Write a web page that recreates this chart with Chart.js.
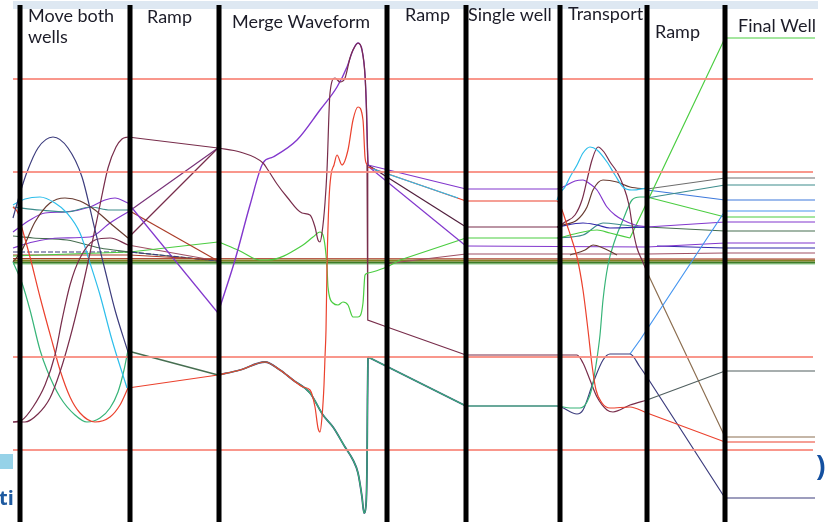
<!DOCTYPE html>
<html>
<head>
<meta charset="utf-8">
<script src="https://cdn.jsdelivr.net/npm/chart.js@4"></script>
<style>
html,body{margin:0;padding:0;background:#fff;overflow:hidden}
canvas{display:block}
</style>
</head>
<body>
<canvas id="c" width="827" height="522"></canvas>
<script>
// Time axis in µs, electrode voltage in V.
const sectionStart = [0, 11, 19.9, 36.7, 44.6, 54, 62.7, 70.5];
const sectionName = [['Move both', 'wells'], ['Ramp'], ['Merge Waveform'], ['Ramp'], ['Single well'], ['Transport'], ['Ramp'], ['Final Well']];
const railLevels = [18.5, 9.2, -9.3, -18.6];
const railSpan = [-0.7, 79.3];
const markerTop = 25.9, markerBottom = -26.5;

// Move both wells
const moveNavy = [[-0.7,4.6],[0.1,7.4],[0.7,9.2],[1.8,11.6],[3.3,12.7],[4.8,11.6],[6.2,8.7],[7.5,3.4],[8.5,-0.6],[9.5,-4.6],[10.8,-8.8]];
const moveMaroonA = [[-0.7,-15.8],[0.5,-15.8],[1.8,-15.0],[3.0,-13.4],[4.0,-10.8],[5.0,-7.4],[6.0,-3.4],[7.0,1.1],[8.0,5.9],[8.8,9.6],[9.6,11.7],[10.2,12.5],[10.8,12.7]];
const moveMaroonB = [[-0.7,-15.8],[0.2,-15.6],[1.3,-14.3],[2.5,-12.1],[3.5,-9.1],[4.2,-5.6],[5.0,-2.1],[6.0,0.6],[7.5,2.4],[9.0,2.6],[10.8,1.9]];
const moveCyan = [[-0.7,5.9],[0.5,6.5],[2.0,6.7],[3.5,6.1],[4.7,5.1],[6.0,3.1],[7.0,0.1],[8.0,-3.1],[9.2,-7.6],[10.7,-12.4]];
const moveRed = [[-0.7,5.7],[-0.2,5.1],[0.2,3.6],[1.0,0.7],[2.0,-3.3],[3.3,-8.1],[4.0,-10.6],[5.0,-13.3],[6.0,-14.9],[7.5,-15.8],[9.0,-15.3],[10.0,-14.1],[10.8,-12.4]];
const moveMint = [[-0.7,0.2],[0.2,-1.9],[1.0,-4.6],[2.0,-8.6],[2.7,-10.6],[4.0,-13.3],[5.5,-15.1],[6.7,-15.8],[8.0,-15.4],[9.0,-14.4],[9.8,-12.8],[10.4,-10.6],[10.8,-8.6]];
const moveBrown = [[-0.7,0.2],[0.2,1.4],[1.5,4.2],[3.0,6.1],[4.5,6.6],[6.0,6.3],[7.5,5.4],[9.0,4.1],[10.8,2.6]];
const moveTeal = [[-0.7,5.7],[2.0,5.4],[4.7,5.2],[7.0,5.7],[9.0,5.4],[10.8,5.4]];
const movePurpleA = [[-0.7,3.2],[1.0,4.4],[2.5,5.1],[4.5,5.2],[7.0,5.7],[8.5,6.4],[9.5,6.6],[10.8,6.1]];
const movePurpleB = [[-0.7,1.6],[1.3,2.2],[4.0,2.6],[7.0,2.7],[9.0,4.1],[10.8,5.2]];
const moveDkGreen = [[-0.7,2.8],[1.3,2.6],[4.7,2.4],[8.0,1.6],[11.0,1.2]];
const moveGreen = [[-0.7,0.8],[5.0,1.0],[11.0,1.2]];
const moveRust = [[-0.7,0.9],[11.0,0.9],[19.9,0.4]];
const moveNavyDash = [[-0.7,1.2],[11.0,1.2],[19.9,0.3]];

// First ramp
const r1Maroon = [[10.8,12.7],[19.8,11.6]];
const r1Purple = [[10.8,6.1],[19.8,-4.9]];
const r1PurpleB = [[10.8,5.2],[19.8,11.6]];
const r1Brown = [[10.8,2.6],[19.8,11.6]];
const r1Teal = [[10.8,5.4],[19.8,0.3]];
const r1Green = [[11.0,1.2],[19.8,2.2]];
const r1DkGreen = [[11.0,1.2],[19.8,0.3]];
const r1MaroonB = [[10.8,1.9],[19.8,0.3]];
const r1Lower = [[10.8,-8.7],[19.8,-11.1]];
const r1Red = [[10.8,-12.4],[19.8,-11.1]];

// Merge waveform
const mergePurple = [[19.8,-4.9],[21.5,0.4],[23.0,5.9],[24.3,10.1],[25.3,10.7],[27.7,12.4],[30.0,15.4],[31.7,17.7],[32.7,19.7],[33.3,21.4],[33.8,22.1],[34.2,21.4],[34.5,18.9],[34.65,15.4],[34.75,11.4],[34.8,9.9]];
const mergeMaroon = [[19.8,11.6],[22.0,11.2],[24.3,10.1],[24.8,9.4],[25.7,8.0],[26.7,6.7],[28.2,5.1],[29.0,4.9],[29.5,3.7],[29.8,2.4],[30.0,2.2],[30.2,3.1],[30.5,6.1],[30.7,9.4],[31.0,17.1],[31.5,18.6],[32.0,18.2],[32.5,18.6],[33.0,20.6],[33.3,21.4],[33.8,22.1],[34.2,21.4],[34.5,18.9],[34.65,15.4],[34.75,11.4],[34.8,9.9]];
const mergeRed = [[19.8,-11.1],[22.0,-10.6],[24.5,-9.8],[26.0,-10.6],[27.3,-11.6],[28.3,-12.3],[29.0,-12.6],[29.5,-14.3],[29.8,-16.4],[30.0,-16.8],[30.2,-15.3],[30.4,-12.1],[30.5,-9.3],[30.6,-6.6],[30.7,-0.3],[30.9,6.4],[31.1,8.9],[31.4,9.9],[31.7,10.9],[32.2,9.9],[32.8,11.4],[33.3,14.4],[33.8,15.7],[34.3,14.4],[34.5,10.7],[34.7,9.9]];
const mergeLower = [[19.8,-11.1],[22.0,-10.6],[24.5,-9.8],[26.0,-10.6],[27.3,-11.6],[29.0,-12.9],[30.3,-15.1],[31.3,-16.3],[32.5,-18.3],[33.3,-19.6],[33.8,-20.9],[34.2,-23.3],[34.4,-24.9],[34.6,-24.1],[34.7,-20.3],[34.75,-13.6],[34.8,-9.3]];
const mergeGreen = [[19.9,2.2],[22.0,1.3],[24.0,0.4],[24.8,0.4],[28.3,1.9],[29.3,2.7],[30.0,3.2],[30.3,2.9],[30.7,-0.3],[30.8,-2.3],[31.3,-3.9],[31.8,-4.1],[32.3,-3.8],[32.8,-4.1],[33.3,-5.3],[33.8,-5.3],[34.3,-3.9],[34.5,-1.1],[34.8,-0.9],[36.7,-0.3]];
const mergeDrop = [[34.7,9.9],[34.75,4.0],[34.8,-5.6],[36.7,-6.3],[44.6,-9.1]];

// Second ramp
const r2Purple = [[34.8,9.9],[44.6,7.5]];
const r2Red = [[34.8,9.7],[44.6,6.3]];
const r2Cyan = [[35.3,9.5],[43.8,6.6]];
const r2Dark = [[34.8,9.9],[44.6,3.7]];
const r2PurpleB = [[34.9,9.7],[44.6,1.8]];
const r2Green = [[36.7,-0.3],[38.0,0.4],[44.6,2.6]];
const r2Mauve = [[36.7,0.0],[38.0,0.2],[44.6,1.0]];
const r2Lower = [[34.8,-9.3],[44.6,-14.2]];

// Single well and transport
const tCyan = [[53.7,6.4],[54.0,7.1],[54.5,7.7],[55.0,8.7],[55.7,9.9],[56.3,11.1],[57.0,11.7],[57.7,11.4],[58.7,10.2],[59.5,8.9],[60.3,7.7],[61.2,7.4],[62.7,7.6]];
const tRed = [[44.6,6.3],[53.7,6.3],[54.2,5.4],[54.7,3.9],[55.2,2.4],[55.7,0.7],[56.3,-2.6],[56.8,-6.6],[57.2,-10.1],[57.6,-12.6],[58.2,-13.9],[59.0,-14.4],[61.0,-14.3],[62.7,-14.9]];
const tMaroonPeak = [[44.6,3.7],[53.7,3.7],[54.5,4.2],[55.5,4.9],[56.2,6.4],[56.7,8.4],[57.2,10.4],[57.8,11.7],[58.4,11.2],[59.0,10.2],[59.7,9.2],[60.3,7.9],[60.9,5.9],[61.3,3.4],[61.7,1.6],[62.2,0.4],[62.7,-0.8]];
const tMaroonFlat = [[53.7,3.7],[54.3,3.9],[55.7,4.4],[56.7,5.7],[57.3,7.4],[58.3,8.4],[59.7,8.2],[61.0,7.7],[62.7,7.5]];
const tPurple = [[44.6,7.5],[53.7,7.5],[54.3,7.7],[55.5,8.3],[56.3,8.4],[57.0,8.0],[57.7,7.4],[58.7,5.7],[59.5,4.9],[60.3,4.4],[61.5,3.9],[62.7,3.7]];
const tDarkBlue = [[53.7,3.7],[56.3,4.1],[57.7,3.9],[59.0,3.6],[62.7,3.7]];
const tGreen = [[44.6,2.6],[53.7,2.6],[55.0,2.9],[56.3,3.2],[57.7,3.4],[59.0,3.1],[61.0,2.6]];
const tTeal = [[53.7,2.6],[56.3,2.9],[58.3,4.1],[60.3,3.9],[62.7,3.6]];
const tPurpleB = [[44.6,1.8],[62.7,1.7]];
const tMauve = [[44.6,1.0],[62.7,1.0]];
const tBump = [[55.0,0.9],[56.5,1.4],[57.3,1.9],[58.3,1.6],[59.7,0.9]];
const tMint = [[44.6,-14.2],[53.7,-14.2],[55.0,-14.4],[56.0,-14.4],[56.7,-13.8],[57.2,-12.4],[57.6,-10.1],[58.0,-7.1],[58.3,-3.6],[58.8,-0.1],[59.5,2.4],[60.3,4.4],[61.2,6.4],[62.0,6.7],[62.7,6.7]];
const tNavy = [[44.6,-14.2],[53.7,-14.2],[55.7,-15.0],[56.3,-14.6],[57.3,-11.9],[58.3,-9.6],[59.0,-9.0],[61.0,-9.0],[62.0,-10.3],[62.7,-11.3]];
const tMaroonLow = [[44.6,-9.1],[53.7,-9.1],[55.7,-9.1],[56.3,-9.9],[57.0,-11.6],[57.7,-13.3],[58.7,-14.6],[59.3,-14.8],[61.0,-14.1],[62.7,-13.6]];

// Last ramp and final wells
const fGreen = [[61.0,2.6],[70.5,22.6],[79.5,22.6]];
const fGray = [[62.7,7.5],[70.5,8.6],[79.5,8.6]];
const fTeal = [[62.7,6.6],[70.5,7.9],[79.5,7.9]];
const fBlue = [[62.7,7.4],[70.5,6.4],[79.5,6.4]];
const fLtBlue = [[61.0,-9.0],[62.0,-7.6],[70.5,5.3],[79.5,5.3]];
const fMint = [[62.7,6.7],[70.5,4.7],[79.5,4.7]];
const fPurple = [[62.7,3.7],[70.5,4.2],[79.5,4.2]];
const fDkGreen = [[62.7,3.7],[70.5,3.3],[79.5,3.3]];
const fPurpleB = [[62.7,1.7],[70.5,2.1],[79.5,2.1]];
const fNavyB = [[63.7,1.8],[70.5,1.6],[79.5,1.6]];
const fMauve = [[62.7,1.0],[70.5,1.1],[79.5,1.1]];
const fSlate = [[62.7,-13.6],[70.5,-10.7],[79.5,-10.7]];
const fTan = [[62.7,-0.8],[70.5,-17.3],[79.5,-17.3]];
const fRed = [[62.7,-14.9],[70.5,-17.8],[79.5,-17.8]];
const fNavy = [[62.7,-11.3],[70.5,-23.4],[79.5,-23.4]];

// Electrodes held near ground for the whole sequence
const baseDark = [[-0.7,0.15],[79.5,0.15]];
const baseOlive = [[-0.7,0.35],[79.5,0.35]];
const baseRust = [[-0.7,0.55],[79.5,0.5]];
const baseLight = [[-0.7,0.0],[79.5,0.0]];

const C = {
  navy: 'rgb(60,60,125)', maroon: 'rgb(120,45,75)', cyan: 'rgb(45,190,235)', red: 'rgb(235,65,45)',
  mint: 'rgb(55,180,120)', green: 'rgb(75,205,65)', purple: 'rgb(130,55,205)', teal: 'rgb(60,140,140)',
  brown: 'rgb(105,60,50)', dkgreen: 'rgb(70,110,80)', slate: 'rgb(80,95,95)', ltblue: 'rgb(70,150,240)',
  gray: 'rgb(110,110,110)', mauve: 'rgb(160,80,100)', tan: 'rgb(140,110,80)', blue: 'rgb(60,120,220)',
  olive: 'rgb(130,130,35)', rust: 'rgb(170,60,40)', ltgreen: 'rgb(140,210,140)', dkolive: 'rgb(60,125,40)'
};

const datasets = [];
function trace(points, color, width, extra) {
  datasets.push(Object.assign({
    data: points.map(p => ({ x: p[0], y: p[1] })),
    borderColor: color, backgroundColor: color, borderWidth: width || 1.2,
    showLine: true, pointRadius: 0, pointHoverRadius: 0, fill: false,
    cubicInterpolationMode: 'monotone', order: 5
  }, extra || {}));
}
const straight = { cubicInterpolationMode: 'default', tension: 0 };

// Section dividers and rails
sectionStart.forEach(t => trace([[t, markerTop], [t + 0.001, markerBottom]], '#000', 5, { order: 0, cubicInterpolationMode: 'default', tension: 0, borderCapStyle: 'butt' }));
railLevels.forEach(v => trace([[railSpan[0], v], [railSpan[1], v]], 'rgba(248,140,128,0.9)', 2, { order: 1, cubicInterpolationMode: 'default', tension: 0 }));

// Curved traces (earlier entries are drawn on top)
trace(mergeMaroon, C.maroon, 1.2);
trace(mergePurple, C.purple, 1.4);
trace(mergeRed, C.red, 1.2);
trace(mergeGreen, C.green, 1.2);
trace(mergeLower, C.mint, 1.2);
trace(mergeLower, C.navy, 1.8);
trace(moveNavy, C.navy);
trace(moveMaroonA, C.maroon);
trace(moveMaroonB, C.maroon);
trace(moveCyan, C.cyan);
trace(moveRed, C.red);
trace(moveMint, C.mint);
trace(moveBrown, C.brown);
trace(moveTeal, C.teal);
trace(movePurpleA, C.purple);
trace(movePurpleB, C.purple);
trace(moveDkGreen, C.dkgreen);
trace(moveGreen, C.green, 1.2, straight);
trace(moveRust, C.rust, 1.2, straight);
trace(moveNavyDash, C.navy, 1.2, Object.assign({ borderDash: [5, 2] }, straight));
trace(tCyan, C.cyan);
trace(tRed, C.red);
trace(tMaroonPeak, C.maroon);
trace(tMaroonFlat, C.brown);
trace(tPurple, C.purple);
trace(tDarkBlue, 'rgb(50,40,170)');
trace(tGreen, C.green);
trace(tTeal, C.teal);
trace(tBump, C.brown);
trace(tMint, C.mint);
trace(tNavy, C.navy);
trace(tMaroonLow, C.maroon);
trace(tPurpleB, C.purple, 1.2, straight);
trace(tMauve, C.mauve, 1.2, straight);

// Straight ramps
trace(r1Maroon, C.maroon, 1.2, straight);
trace(r1Purple, C.purple, 1.2, straight);
trace(r1PurpleB, 'rgb(120,50,120)', 1.2, straight);
trace(r1Brown, C.maroon, 1.2, straight);
trace(r1Teal, C.rust, 1.2, straight);
trace(r1Green, C.green, 1.2, straight);
trace(r1DkGreen, C.dkgreen, 1.2, straight);
trace(r1MaroonB, C.mauve, 1.2, straight);
trace(r1Lower, C.dkgreen, 1.5, straight);
trace(r1Red, C.red, 1.2, straight);
trace(mergeDrop, C.maroon, 1.2, straight);
trace(r2Cyan, C.cyan, 1.2, straight);
trace(r2Purple, C.purple, 1.2, straight);
trace(r2Red, C.red, 1.2, straight);
trace(r2Dark, 'rgb(80,30,60)', 1.2, straight);
trace(r2PurpleB, C.purple, 1.2, straight);
trace(r2Green, C.green, 1.2, straight);
trace(r2Mauve, C.mauve, 1.2, straight);
trace(r2Lower, C.mint, 1.2, straight);
trace(r2Lower, C.navy, 1.8, straight);
trace(fGreen, C.green, 1.2, straight);
trace(fGray, C.gray, 1.2, straight);
trace(fTeal, C.teal, 1.2, straight);
trace(fBlue, C.blue, 1.2, straight);
trace(fLtBlue, C.ltblue, 1.2, straight);
trace(fMint, C.green, 1.2, straight);
trace(fPurple, C.purple, 1.2, straight);
trace(fDkGreen, C.dkgreen, 1.2, straight);
trace(fPurpleB, C.purple, 1.2, straight);
trace(fNavyB, 'rgb(50,40,170)', 1.2, straight);
trace(fMauve, C.mauve, 1.2, straight);
trace(fSlate, C.slate, 1.2, straight);
trace(fTan, C.tan, 1.2, straight);
trace(fRed, C.red, 1.2, straight);
trace(fNavy, C.navy, 1.2, straight);
trace(baseRust, C.rust, 1.2, straight);
trace(baseOlive, C.olive, 2, straight);
trace(baseDark, C.dkolive, 2, straight);
trace(baseLight, C.ltgreen, 1, straight);

// Label placement relative to each divider (px)
const labelDx = [8, 17, 13, 18, 2, 8, 8, 13];
const labelBaseline = [22, 23, 28, 21, 21, 20, 38, 32];
const labelLineGap = 21;

const decor = {
  id: 'decor',
  beforeDatasetsDraw(chart) {
    const ctx = chart.ctx;
    ctx.save();
    ctx.fillStyle = 'rgb(222,232,242)';
    ctx.fillRect(13, 1, 805, 8);
    ctx.restore();
  },
  afterDraw(chart) {
    const { ctx } = chart;
    const x = chart.scales.x;
    ctx.save();
    ctx.fillStyle = '#1c1c28';
    ctx.font = '18px Lato';
    ctx.textBaseline = 'alphabetic';
    sectionName.forEach((lines, i) => {
      const px = x.getPixelForValue(sectionStart[i]) + labelDx[i];
      lines.forEach((s, k) => ctx.fillText(s, px, labelBaseline[i] + k * labelLineGap));
    });
    ctx.fillStyle = 'rgb(150,210,232)';
    ctx.fillRect(0, 454, 13, 15);
    ctx.fillStyle = 'rgb(30,90,160)';
    ctx.font = 'bold 20px "Open Sans"';
    ctx.fillText('ti', -1, 505);
    ctx.fillStyle = 'rgb(20,80,160)';
    ctx.font = 'bold 28px "Open Sans"';
    ctx.fillText(')', 816, 476);
    ctx.restore();
  }
};

new Chart(document.getElementById('c'), {
  type: 'scatter',
  data: { datasets },
  options: {
    responsive: false, animation: false, devicePixelRatio: 1, events: [],
    layout: { padding: 0 },
    plugins: { legend: { display: false }, tooltip: { enabled: false } },
    scales: {
      x: { type: 'linear', min: -2, max: 80.7, display: false },
      y: { type: 'linear', min: -25.8, max: 26.4, display: false }
    }
  },
  plugins: [decor]
});
</script>
</body>
</html>
